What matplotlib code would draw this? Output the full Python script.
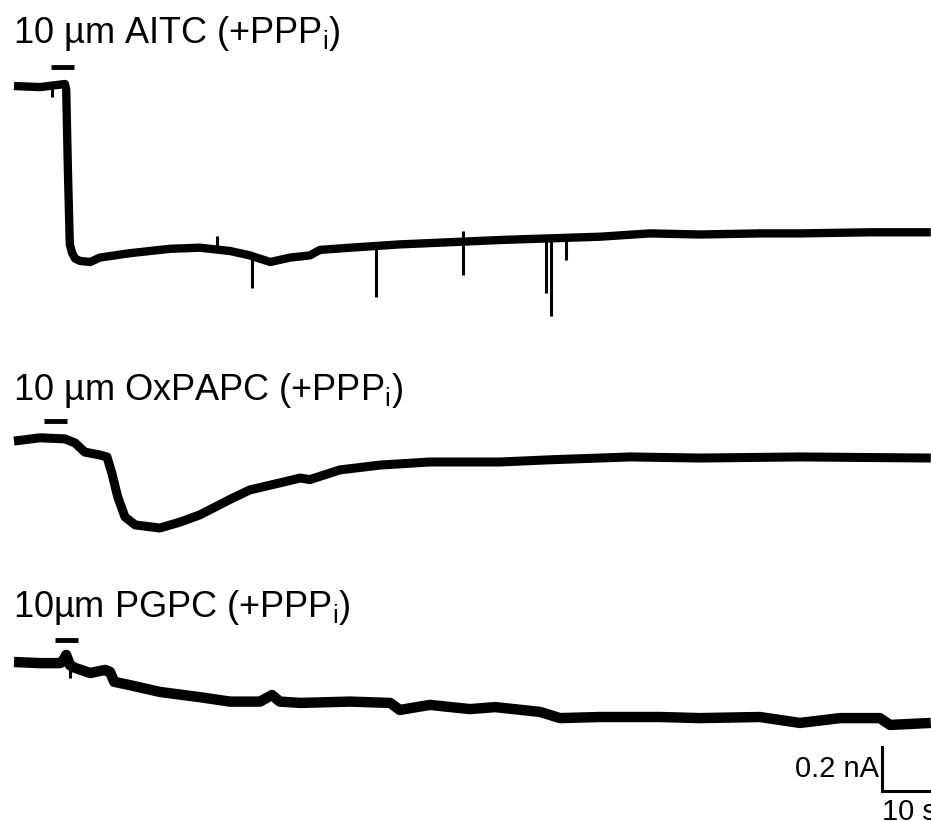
import numpy as np
import matplotlib
matplotlib.use("Agg")
import matplotlib.pyplot as plt

plt.rcParams['font.family'] = ['Liberation Sans', 'DejaVu Sans']
plt.rcParams['mathtext.fontset'] = 'custom'
plt.rcParams['mathtext.rm'] = 'Liberation Sans'

# traces: time (s) and current (nA, relative to start)
aitc_t = [0, 4.3, 8.5, 8.7, 9.0, 9.3, 9.7, 10.2, 11, 12.7, 14.3, 19.3, 26, 31, 36,
          39.3, 42.7, 46, 49.3, 51, 56, 64.3, 72.7, 81, 97.7, 106, 114.3, 124.3,
          131, 142.7, 152.8]
aitc_i = [0, -0.005, 0.009, -0.018, -0.40, -0.72, -0.76, -0.785, -0.795, -0.80,
          -0.78, -0.76, -0.74, -0.735, -0.75, -0.77, -0.80, -0.78, -0.77, -0.745,
          -0.735, -0.72, -0.71, -0.70, -0.685, -0.67, -0.675, -0.67, -0.67, -0.665,
          -0.665]
# short artefact spikes on the AITC trace: time and tip value
aitc_spike_t = [6.4, 33.8, 39.7, 60.3, 74.8, 74.8, 88.7, 89.5, 92.0]
aitc_spike_i = [-0.05, -0.68, -0.92, -0.96, -0.66, -0.86, -0.94, -1.045, -0.79]

oxpapc_t = [0, 4.3, 8.5, 10.2, 11.8, 14.3, 15.5, 16.3, 17.3, 18.5, 20.2, 24.3,
            27.7, 31, 36, 39.3, 44.3, 47.7, 49.3, 54.3, 61, 69.3, 81, 89.3, 102.7,
            114.3, 131, 152.8]
oxpapc_i = [-0.005, 0.01, 0.005, -0.014, -0.055, -0.068, -0.077, -0.15, -0.26,
            -0.35, -0.386, -0.40, -0.373, -0.34, -0.27, -0.227, -0.195, -0.173,
            -0.18, -0.136, -0.114, -0.10, -0.10, -0.09, -0.077, -0.082, -0.077,
            -0.082]

pgpc_t = [0, 4.3, 7.7, 8.3, 8.7, 9.0, 9.3, 10.2, 12.7, 15.2, 16, 16.7, 19.3,
          24.3, 31, 36, 41, 43, 44.3, 47.7, 56, 62.7, 64.3, 69.3, 76, 80.2, 87.7,
          91, 97.7, 107.7, 114.3, 124.3, 131, 137.7, 144.3, 146, 152.8]
pgpc_i = [0, -0.005, -0.005, 0.01, 0.032, 0.01, -0.014, -0.027, -0.05, -0.036,
          -0.045, -0.09, -0.105, -0.136, -0.16, -0.18, -0.18, -0.15, -0.18,
          -0.186, -0.18, -0.186, -0.218, -0.195, -0.214, -0.205, -0.227, -0.255,
          -0.25, -0.25, -0.255, -0.25, -0.277, -0.255, -0.255, -0.286, -0.277]
pgpc_spike_t = [9.3]
pgpc_spike_i = [-0.073]

titles = [r'10 µm AITC (+PPP$_\mathregular{i}$)',
          r'10 µm OxPAPC (+PPP$_\mathregular{i}$)',
          r'10µm PGPC (+PPP$_\mathregular{i}$)']
# drug application bars (start, end in s)
app_bars = [(6.2, 10.0), (5.0, 8.8), (6.8, 10.7)]

W, H = 931, 821
PX_PER_S = 6.0
PX_PER_NA = 220.0
X0 = 14  # pixel where t = 0

fig = plt.figure(figsize=(W / 100, H / 100), dpi=100)


def trace_axes(base_px):
    ax = fig.add_axes([0, 0, 1, 1])
    ax.set_xlim(-X0 / PX_PER_S, (W - X0) / PX_PER_S)
    ax.set_ylim((base_px - H) / PX_PER_NA, base_px / PX_PER_NA)
    ax.patch.set_alpha(0)
    ax.axis('off')
    return ax


bases = [86, 440, 662]
bar_heights = [0.086, 0.086, 0.10]
title_y = [0.195, 0.18, 0.205]
trace_lw = [6.0, 6.5, 7.5]
data = [(aitc_t, aitc_i, aitc_spike_t, aitc_spike_i),
        (oxpapc_t, oxpapc_i, [], []),
        (pgpc_t, pgpc_i, pgpc_spike_t, pgpc_spike_i)]

axes = []
for k, (t, cur, st, si) in enumerate(data):
    ax = trace_axes(bases[k])
    axes.append(ax)
    ax.plot(t, cur, color='black', lw=trace_lw[k], solid_joinstyle='round',
            solid_capstyle='butt')
    if st:
        base_vals = np.interp(st, t, cur)
        ax.vlines(st, base_vals, si, color='black', lw=2.2)
    b0, b1 = app_bars[k]
    ax.plot([b0, b1], [bar_heights[k]] * 2, color='black', lw=3.5,
            solid_capstyle='butt')
    ax.text(-0.2, title_y[k], titles[k], fontsize=26, ha='left',
            va='baseline')

# scale bar (0.2 nA, 10 s) on the last axes
ax = axes[-1]
sx = 144.7
sy = -0.586
ax.plot([sx, sx, sx + 10], [sy + 0.2, sy, sy], color='black', lw=2.2,
        solid_joinstyle='miter')
ax.text(sx - 0.6, sy + 0.1, '0.2 nA', fontsize=21, ha='right', va='center')
ax.text(sx - 0.1, sy - 0.03, '10 s', fontsize=21, ha='left', va='top')

fig.savefig('out.png', dpi=100)
